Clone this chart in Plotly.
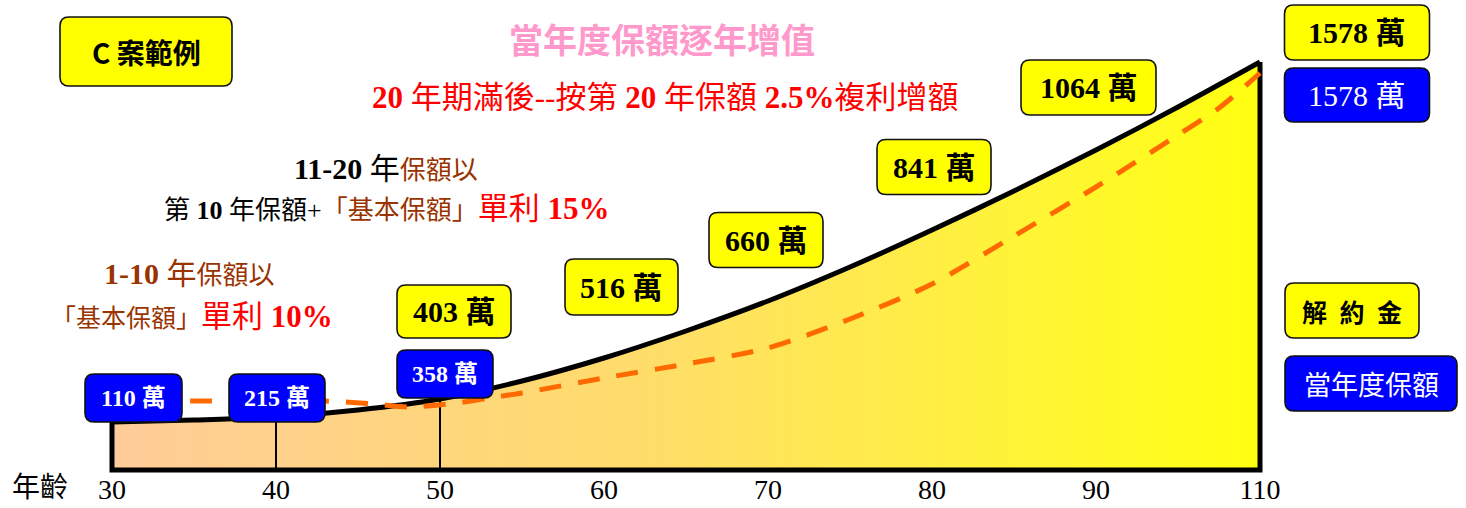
import numpy as np
import plotly.graph_objects as go

# ---------------- data ----------------
tick_ages = [30, 40, 50, 60, 70, 80, 90, 110]
tick_text = ["30", "40", "50", "60", "70", "80", "90", "110"]

# 解約金 curve (schematic height)
cash_ages = [30, 35, 40, 45, 50, 55, 60, 65, 70, 75, 80, 85, 90, 100, 110]
cash_height = [48, 50, 53, 60, 71, 89, 112, 139, 169, 203, 240, 279, 320, 363, 408]

# 當年度保額 dashed curve (schematic height)
sum_ages = [30, 35, 40, 43, 46, 48, 51, 53, 55, 60, 65, 70, 75, 80, 85, 90, 100, 105, 110]
sum_height = [69, 69, 69, 69, 66, 63, 67, 72, 77, 92, 106, 122, 151, 186, 234, 283, 335, 362, 397]

cash_label_ages = [50, 60, 70, 80, 90, 110]
cash_labels = ["403 萬", "516 萬", "660 萬", "841 萬", "1064 萬", "1578 萬"]
sum_label_ages = [30, 40, 50, 110]
sum_labels = ["110 萬", "215 萬", "358 萬", "1578 萬"]

# ---------------- geometry helpers (pixel layout) ----------------
W, H = 1466, 508
MB = 30            # bottom margin
X0PX, PXU = 112, 164   # pixel of first tick, pixels per tick step
BASE = 470         # pixel row of the baseline

def dx(px):
    return (px - X0PX) / PXU

def dy(py):
    return BASE - py

def pos(a):
    return np.interp(a, tick_ages, list(range(len(tick_ages))))

SERIF = "Liberation Serif, Noto Sans CJK TC, serif"
CJK = "Noto Sans CJK TC, Liberation Serif, sans-serif"

fig = go.Figure()

# filled area under 解約金 curve
fig.add_trace(go.Scatter(
    x=pos(cash_ages), y=cash_height, mode="lines",
    line=dict(color="black", width=5, shape="spline", smoothing=0.8),
    fill="tozeroy",
    fillgradient=dict(type="horizontal",
                      colorscale=[[0, "#FFCC99"], [0.45, "#FFDC6C"],
                                  [0.8, "#FFF436"], [1, "#FFFF10"]]),
    hoverinfo="skip"))

# outline: right edge, baseline, left edge
fig.add_trace(go.Scatter(
    x=[pos(cash_ages[-1]), pos(cash_ages[-1]), pos(cash_ages[0]), pos(cash_ages[0])],
    y=[cash_height[-1], 0, 0, cash_height[0]],
    mode="lines", line=dict(color="black", width=5), hoverinfo="skip"))

# vertical lines at 40 and 50
vx, vy = [], []
for a in (40, 50):
    h = cash_height[cash_ages.index(a)]
    vx += [pos(a), pos(a), None]
    vy += [0, h, None]
fig.add_trace(go.Scatter(x=vx, y=vy, mode="lines",
                         line=dict(color="black", width=2), hoverinfo="skip"))

# dashed 當年度保額 line
fig.add_trace(go.Scatter(
    x=pos(sum_ages), y=sum_height, mode="lines",
    line=dict(color="#FF6A00", width=5, dash="22px,17px", shape="spline", smoothing=0.8),
    hoverinfo="skip"))

# ---------------- boxes ----------------
def rrect_path(cx, cy, w, h, r=9):
    x0, x1 = dx(cx - w / 2), dx(cx + w / 2)
    yt, yb = dy(cy - h / 2), dy(cy + h / 2)
    rx, ry = r / PXU, r
    return (f"M {x0+rx},{yt} L {x1-rx},{yt} Q {x1},{yt} {x1},{yt-ry} "
            f"L {x1},{yb+ry} Q {x1},{yb} {x1-rx},{yb} L {x0+rx},{yb} "
            f"Q {x0},{yb} {x0},{yb+ry} L {x0},{yt-ry} Q {x0},{yt} {x0+rx},{yt} Z")

YEL, BLU = "#FFFF00", "#0000FF"
boxes = [
    # (text, cx, cy, w, h, fill, font color, size, bold, family)
    (sum_labels[0], 133.5, 398, 97, 48, BLU, "white", 24, True, SERIF),
    (sum_labels[1], 277, 398, 96, 48, BLU, "white", 24, True, SERIF),
    (sum_labels[2], 445, 374, 96, 48, BLU, "white", 24, True, SERIF),
    (cash_labels[0], 454, 311.5, 114, 53, YEL, "black", 30, True, SERIF),
    (cash_labels[1], 621.5, 287, 113, 56, YEL, "black", 30, True, SERIF),
    (cash_labels[2], 766, 240, 114, 55, YEL, "black", 30, True, SERIF),
    (cash_labels[3], 934, 167, 114, 55, YEL, "black", 30, True, SERIF),
    (cash_labels[4], 1088.5, 87.5, 135, 55, YEL, "black", 30, True, SERIF),
    (cash_labels[5], 1357, 32.5, 145, 55, YEL, "black", 30, True, SERIF),
    (sum_labels[3], 1357, 95, 145, 54, BLU, "white", 30, False, SERIF),
    ("C 案範例", 146, 51.5, 172, 69, YEL, "black", 28, True, CJK),
    ("解\u2002約\u2002金", 1352, 310.5, 134, 55, YEL, "black", 25, True, CJK),
    ("當年度保額", 1371, 383.5, 172, 55, BLU, "white", 27, False, CJK),
]

shapes, annos = [], []
for text, cx, cy, w, h, fill, fc, fs, bold, fam in boxes:
    shapes.append(dict(type="path", path=rrect_path(cx, cy, w, h), xref="x", yref="y",
                       fillcolor=fill, line=dict(color="#111111", width=1.6), layer="above"))
    annos.append(dict(x=dx(cx), y=dy(cy), xref="x", yref="y", showarrow=False,
                      text=f"<b>{text}</b>" if bold else text,
                      font=dict(family=fam, size=fs, color=fc),
                      xanchor="center", yanchor="middle"))

BR, RD = "#993300", "#FF0000"
free_texts = [
    ("<b>當年度保額逐年增值</b>", 662, 38, 34, "#FF99CC", CJK),
    ("<b>20</b> 年期滿後--按第 <b>20</b> 年保額 <b>2.5%</b>複利增額", 665, 97, 31, RD, SERIF),
    (f"<b>11-20</b> 年<span style='color:{BR};font-size:26px'>保額以</span>", 386, 168, 30, "black", SERIF),
    (f"第 <b>10</b> 年保額+<span style='color:{BR}'>「基本保額」</span>"
     f"<span style='color:{RD};font-size:31px'>單利 <b>15%</b></span>", 386, 208, 26, "black", SERIF),
    ("<b>1-10</b> 年<span style='font-size:26px'>保額以</span>", 189, 273, 30, BR, SERIF),
    (f"「基本保額」<span style='color:{RD};font-size:31px'>單利 <b>10%</b></span>", 192, 316, 25, BR, SERIF),
]
for text, cx, cy, fs, col, fam in free_texts:
    annos.append(dict(x=dx(cx), y=dy(cy), xref="x", yref="y", showarrow=False, text=text,
                      font=dict(family=fam, size=fs, color=col),
                      xanchor="center", yanchor="middle"))

annos.append(dict(x=40 / W, y=(H - MB - 485) / (H - MB), xref="paper", yref="paper",
                  showarrow=False, text="年齡", xanchor="center", yanchor="middle",
                  font=dict(family=CJK, size=28, color="black")))

fig.update_layout(
    width=W, height=H,
    margin=dict(l=0, r=0, t=0, b=MB, pad=0, autoexpand=False),
    paper_bgcolor="white", plot_bgcolor="white",
    showlegend=False,
    shapes=shapes, annotations=annos,
    xaxis=dict(range=[dx(0), dx(W)], tickvals=list(range(len(tick_ages))), ticktext=tick_text,
               tickfont=dict(family=SERIF, size=28, color="black"), automargin=False,
               ticklabelstandoff=-8,
               showgrid=False, zeroline=False, showline=False, ticks="", fixedrange=True),
    yaxis=dict(range=[dy(H - MB), dy(0)], visible=False, fixedrange=True, automargin=False),
)

fig.write_html("out.html", config={"displayModeBar": False},
               post_script="document.body.style.margin='0px';document.body.style.overflow='hidden';")
